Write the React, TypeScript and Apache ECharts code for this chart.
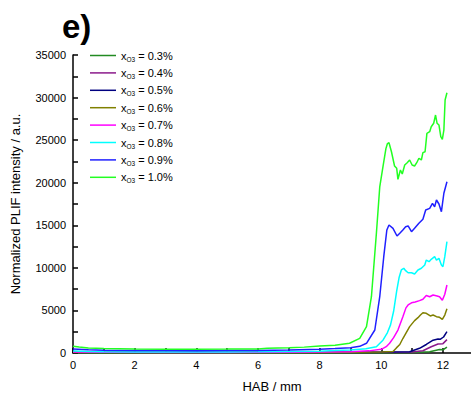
import React, { useEffect, useRef } from "react";
import * as echarts from "echarts";

const xTicks = [0, 2, 4, 6, 8, 10, 12];
const seriesNames = ["0.3%", "0.4%", "0.5%", "0.6%", "0.7%", "0.8%", "0.9%", "1.0%"];
const seriesColors = ["#228B22", "#8B1A8B", "#000080", "#808000", "#FF00FF", "#00FFFF", "#2020FF", "#22FF22"];

const x03: number[][] = [[0, 60], [1, 40], [3, 30], [5, 30], [7, 30], [9, 30], [10, 40], [11, 50], [11.57, 150], [11.89, 400], [12.0, 380], [12.13, 700]];
const x04: number[][] = [[0, 180], [0.5, 110], [1, 90], [3, 80], [5, 80], [7, 80], [9, 80], [10, 90], [11, 120], [11.35, 270], [11.62, 740], [11.84, 1060], [12.0, 1100], [12.13, 1570]];
const x05: number[][] = [[0, 120], [1, 90], [3, 80], [5, 80], [7, 90], [9, 100], [10, 110], [10.92, 150], [11.24, 550], [11.46, 1000], [11.68, 1500], [11.84, 1650], [11.92, 1620], [12.02, 1880], [12.13, 2500]];
const x06: number[][] = [[0, 80], [1, 60], [3, 50], [5, 50], [7, 60], [9, 80], [10, 120], [10.38, 180], [10.49, 600], [10.6, 1000], [10.7, 1700], [10.81, 2400], [10.92, 3100], [11.08, 3800], [11.19, 4150], [11.27, 4460], [11.35, 4730], [11.46, 4660], [11.59, 4350], [11.68, 4460], [11.79, 4270], [11.89, 4190], [11.98, 3960], [12.06, 4460], [12.13, 5200]];
const x07: number[][] = [[0, 120], [1, 80], [3, 70], [5, 70], [7, 90], [8, 120], [9, 160], [9.6, 250], [10.0, 430], [10.16, 740], [10.27, 1140], [10.4, 1800], [10.54, 2700], [10.7, 4270], [10.8, 5300], [10.87, 5640], [10.98, 5900], [11.1, 6000], [11.24, 6150], [11.35, 6310], [11.46, 6750], [11.57, 6610], [11.68, 6810], [11.81, 6700], [11.89, 6610], [11.98, 6200], [12.06, 6900], [12.13, 7990]];
const x08: number[][] = [[0, 230], [0.5, 170], [1, 150], [2, 130], [3, 120], [4, 120], [5, 130], [6, 140], [7, 170], [8, 220], [8.5, 280], [9, 350], [9.5, 500], [9.84, 740], [10.06, 1530], [10.2, 2400], [10.3, 3300], [10.4, 4900], [10.5, 7300], [10.58, 8900], [10.65, 9750], [10.73, 9950], [10.79, 9670], [10.87, 9430], [10.98, 9430], [11.08, 9280], [11.19, 9750], [11.3, 9950], [11.41, 10340], [11.46, 10920], [11.55, 10720], [11.62, 11000], [11.73, 11310], [11.79, 10920], [11.87, 11120], [11.95, 10340], [12.0, 10140], [12.06, 11310], [12.13, 13070]];
const x09: number[][] = [[0, 470], [0.5, 380], [1, 330], [2, 300], [3, 280], [4, 270], [5, 280], [6, 290], [6.5, 330], [7, 360], [8, 450], [8.5, 520], [9, 620], [9.3, 780], [9.52, 1140], [9.79, 2700], [9.95, 6610], [10.08, 11310], [10.18, 14450], [10.25, 15030], [10.38, 14640], [10.51, 13740], [10.6, 14060], [10.7, 14450], [10.79, 14830], [10.87, 14920], [10.98, 14250], [11.08, 14640], [11.22, 15230], [11.35, 15700], [11.44, 16790], [11.57, 16980], [11.66, 17580], [11.73, 17180], [11.79, 17970], [11.87, 17500], [11.95, 16600], [12.03, 18760], [12.13, 20120]];
const x10: number[][] = [[0, 800], [0.2, 700], [0.5, 600], [1, 520], [2, 480], [3, 450], [4, 450], [5, 460], [6, 480], [6.3, 560], [7, 620], [7.5, 690], [8, 820], [8.5, 920], [8.97, 1140], [9.3, 1720], [9.52, 3090], [9.68, 6610], [9.84, 14000], [9.95, 19500], [10.06, 22000], [10.15, 24000], [10.2, 24600], [10.25, 24700], [10.33, 23640], [10.43, 21960], [10.5, 21690], [10.54, 20400], [10.62, 21490], [10.68, 21020], [10.76, 22080], [10.84, 22350], [10.92, 22670], [11.0, 22080], [11.08, 21960], [11.15, 22350], [11.22, 22870], [11.3, 22670], [11.35, 23530], [11.42, 23640], [11.48, 25800], [11.57, 25990], [11.62, 26580], [11.7, 26980], [11.76, 27950], [11.81, 26980], [11.87, 26780], [11.93, 25400], [11.98, 25100], [12.03, 26190], [12.07, 29710], [12.13, 30570]];

const seriesData = [x03, x04, x05, x06, x07, x08, x09, x10];

const FONT = "Liberation Sans, Arial, sans-serif";

export default function App() {
  const ref = useRef<HTMLDivElement>(null);
  useEffect(() => {
    document.body.style.margin = "0";
    if (!ref.current) return;
    const chart = echarts.init(ref.current, null, { renderer: "svg" });
    chart.setOption({
      animation: false,
      backgroundColor: "#ffffff",
      title: {
        text: "e)",
        left: 57,
        top: 5,
        textStyle: { fontFamily: FONT, fontSize: 33, fontWeight: "bold", color: "#000" },
      },
      legend: {
        orient: "vertical",
        left: 90,
        top: 50,
        padding: 0,
        icon: "rect",
        itemWidth: 26,
        itemHeight: 1.5,
        itemGap: 4.9,
        data: seriesNames,
        formatter: (name: string) => `{a|x}{s|O3}{a| = ${name}}`,
        textStyle: {
          fontFamily: FONT,
          color: "#000",
          rich: {
            a: { fontFamily: FONT, fontSize: 11, lineHeight: 14, color: "#000" },
            s: { fontFamily: FONT, fontSize: 6.5, lineHeight: 4, color: "#000", verticalAlign: "bottom" },
          },
        },
      },
      grid: { left: 73, right: 0, top: 55, bottom: 46 },
      xAxis: {
        type: "value",
        min: 0,
        max: 12.91,
        interval: 1,
        name: "HAB / mm",
        nameLocation: "middle",
        nameGap: 27,
        nameTextStyle: { fontFamily: FONT, fontSize: 13, color: "#000" },
        axisLine: { lineStyle: { color: "#000", width: 1.5 } },
        axisTick: { inside: true, length: 5, lineStyle: { color: "#000", width: 1.5 } },
        axisLabel: {
          margin: 6,
          fontFamily: FONT,
          fontSize: 11,
          color: "#000",
          showMaxLabel: false,
          formatter: (v: number) => (xTicks.includes(v) ? String(v) : ""),
        },
        splitLine: { show: false },
      },
      yAxis: {
        type: "value",
        min: 0,
        max: 35000,
        interval: 2500,
        name: "Normalized PLIF intensity / a.u.",
        nameLocation: "middle",
        nameGap: 51,
        nameTextStyle: { fontFamily: FONT, fontSize: 13, color: "#000" },
        axisLine: { show: true, lineStyle: { color: "#000", width: 1.5 } },
        axisTick: { inside: true, length: 5, lineStyle: { color: "#000", width: 1.5 } },
        axisLabel: {
          margin: 7,
          fontFamily: FONT,
          fontSize: 11,
          color: "#000",
          formatter: (v: number) => (v % 5000 === 0 ? String(v) : ""),
        },
        splitLine: { show: false },
      },
      series: seriesNames.map((name, i) => ({
        name,
        type: "line",
        data: seriesData[i],
        symbol: "none",
        showSymbol: false,
        smooth: false,
        color: seriesColors[i],
        lineStyle: { color: seriesColors[i], width: 1.5 },
        z: 2 + i,
      })),
    });
    return () => chart.dispose();
  }, []);
  return <div ref={ref} style={{ position: "fixed", left: 0, top: 0, width: 471, height: 399 }} />;
}
